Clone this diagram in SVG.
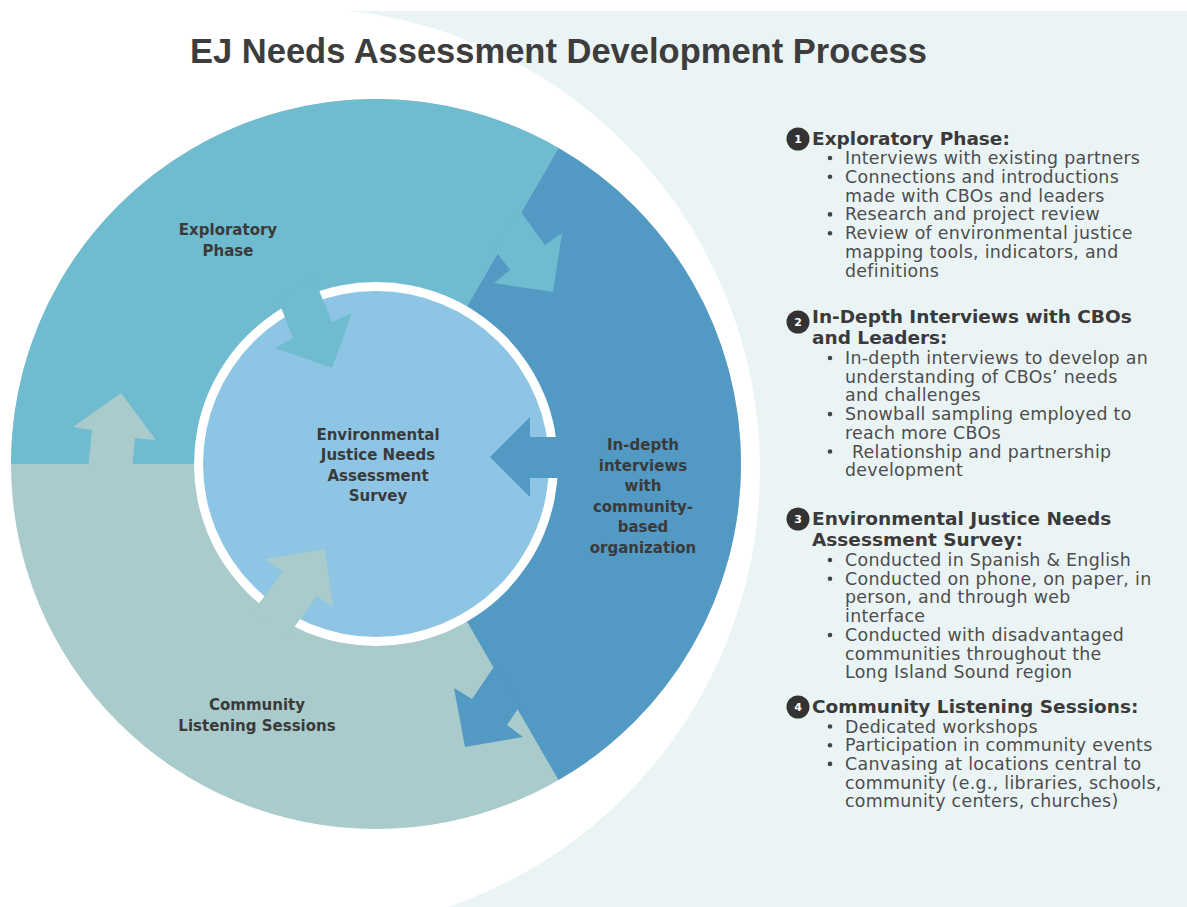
<svg xmlns="http://www.w3.org/2000/svg" width="1187" height="907" viewBox="0 0 1187 907">
<style>
.title{font-family:"Liberation Sans",Arial,sans-serif;font-weight:bold;font-size:34.5px;fill:#3d3d3d}
.lbl{font-family:"DejaVu Sans",sans-serif;font-weight:bold;font-size:15px;fill:#3a3a3a;text-anchor:middle}
.hd{font-family:"DejaVu Sans",sans-serif;font-weight:bold;font-size:18.5px;fill:#3a3a3a}
.it{font-family:"DejaVu Sans",sans-serif;font-size:17.4px;letter-spacing:0.3px;fill:#4d4d4d}
.num{font-family:"DejaVu Sans",sans-serif;font-weight:bold;font-size:11px;fill:#ffffff;text-anchor:middle}
.nc{fill:#333333}
.bul{fill:#444444}
.expl{fill:#6FBBD0}
.deep{fill:#5299C4}
.comm{fill:#A9CBCB}
</style>
<rect width="1187" height="907" fill="#ffffff"/>
<g id="background">
<rect x="300" y="11" width="887" height="896" fill="#EBF4F5"/>
<circle cx="298" cy="470" r="462" fill="#ffffff"/>
</g>
<text class="title" x="190" y="63">EJ Needs Assessment Development Process</text>
<g id="node-community">
<circle class="comm" cx="376" cy="464" r="365"/>
<text class="lbl" x="257" y="710">Community</text>
<text class="lbl" x="257" y="731">Listening Sessions</text>
</g>
<g id="node-indepth">
<path class="deep" d="M376,464 L558.5,147.9 A365,365 0 0 1 558.5,780.1 Z"/>
<text class="lbl" x="643" y="450">In-depth</text>
<text class="lbl" x="643" y="471">interviews</text>
<text class="lbl" x="643" y="491">with</text>
<text class="lbl" x="643" y="512">community-</text>
<text class="lbl" x="643" y="532">based</text>
<text class="lbl" x="643" y="553">organization</text>
</g>
<g id="node-exploratory">
<path class="expl" d="M376,464 L11,464 A365,365 0 0 1 558.5,147.9 Z"/>
<text class="lbl" x="228" y="235">Exploratory</text>
<text class="lbl" x="228" y="256">Phase</text>
</g>
<g id="node-survey">
<circle cx="376" cy="464" r="182" fill="#ffffff"/>
<circle cx="376" cy="464" r="173" fill="#8EC5E4"/>
</g>
<g id="connectors">
<polygon class="expl" points="518,208 545,245 562,233 553,292 494,283 510,270 494,249"/>
<polygon class="deep" points="496.5,663 472,699 454,688 465,747 523,737 507,725 520.5,705"/>
<polygon class="comm" points="88,470 92,430 73,427 121,393 156,440 135,438 132,470"/>
<polygon class="expl" points="278,300 293,338 275,348 332,368 352,313 332,322 314,278"/>
<polygon class="deep" points="566,437 530,437 530,417 490,457 530,497 530,478 566,478"/>
<polygon class="comm" points="250,615 283,572 265,559 325,549 333,607 317,596 287,637"/>
</g>
<g id="survey-label">
<text class="lbl" x="378" y="440">Environmental</text>
<text class="lbl" x="378" y="460">Justice Needs</text>
<text class="lbl" x="378" y="481">Assessment</text>
<text class="lbl" x="378" y="501">Survey</text>
</g>
<g id="panel-1">
<circle class="nc" cx="798" cy="139" r="11.5"/>
<text class="num" x="798" y="143">1</text>
<text class="hd" x="812" y="145">Exploratory Phase:</text>
<circle class="bul" cx="830" cy="158" r="2.3"/>
<text class="it" x="845" y="164">Interviews with existing partners</text>
<circle class="bul" cx="830" cy="176.8" r="2.3"/>
<text class="it" x="845" y="182.8">Connections and introductions</text>
<text class="it" x="845" y="201.6">made with CBOs and leaders</text>
<circle class="bul" cx="830" cy="214.4" r="2.3"/>
<text class="it" x="845" y="220.4">Research and project review</text>
<circle class="bul" cx="830" cy="233.2" r="2.3"/>
<text class="it" x="845" y="239.2">Review of environmental justice</text>
<text class="it" x="845" y="258">mapping tools, indicators, and</text>
<text class="it" x="845" y="276.8">definitions</text>
</g>
<g id="panel-2">
<circle class="nc" cx="798" cy="322" r="11.5"/>
<text class="num" x="798" y="326">2</text>
<text class="hd" x="812" y="323">In-Depth Interviews with CBOs</text>
<text class="hd" x="812" y="344">and Leaders:</text>
<circle class="bul" cx="830" cy="358" r="2.3"/>
<text class="it" x="845" y="364">In-depth interviews to develop an</text>
<text class="it" x="845" y="382.7">understanding of CBOs’ needs</text>
<text class="it" x="845" y="401.4">and challenges</text>
<circle class="bul" cx="830" cy="414.1" r="2.3"/>
<text class="it" x="845" y="420.1">Snowball sampling employed to</text>
<text class="it" x="845" y="438.8">reach more CBOs</text>
<circle class="bul" cx="830" cy="451.5" r="2.3"/>
<text class="it" x="852" y="457.5">Relationship and partnership</text>
<text class="it" x="845" y="476.2">development</text>
</g>
<g id="panel-3">
<circle class="nc" cx="798" cy="519" r="11.5"/>
<text class="num" x="798" y="523">3</text>
<text class="hd" x="812" y="525">Environmental Justice Needs</text>
<text class="hd" x="812" y="546">Assessment Survey:</text>
<circle class="bul" cx="830" cy="560" r="2.3"/>
<text class="it" x="845" y="566">Conducted in Spanish &amp; English</text>
<circle class="bul" cx="830" cy="578.7" r="2.3"/>
<text class="it" x="845" y="584.7">Conducted on phone, on paper, in</text>
<text class="it" x="845" y="603.4">person, and through web</text>
<text class="it" x="845" y="622.1">interface</text>
<circle class="bul" cx="830" cy="635" r="2.3"/>
<text class="it" x="845" y="641">Conducted with disadvantaged</text>
<text class="it" x="845" y="659.7">communities throughout the</text>
<text class="it" x="845" y="678.4">Long Island Sound region</text>
</g>
<g id="panel-4">
<circle class="nc" cx="798" cy="707" r="11.5"/>
<text class="num" x="798" y="711">4</text>
<text class="hd" x="812" y="713">Community Listening Sessions:</text>
<circle class="bul" cx="830" cy="726.5" r="2.3"/>
<text class="it" x="845" y="732.5">Dedicated workshops</text>
<circle class="bul" cx="830" cy="745.2" r="2.3"/>
<text class="it" x="845" y="751.2">Participation in community events</text>
<circle class="bul" cx="830" cy="763.9" r="2.3"/>
<text class="it" x="845" y="769.9">Canvasing at locations central to</text>
<text class="it" x="845" y="788.6">community (e.g., libraries, schools,</text>
<text class="it" x="845" y="807.3">community centers, churches)</text>
</g>
</svg>
